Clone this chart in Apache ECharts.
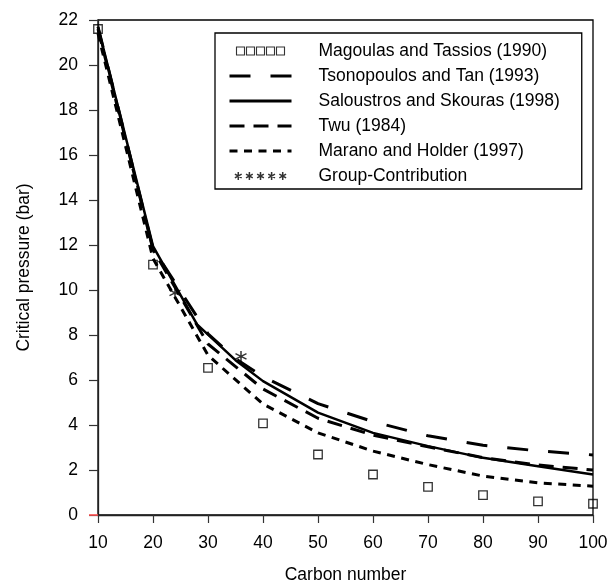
<!DOCTYPE html>
<html>
<head>
<meta charset="utf-8">
<script src="https://cdn.jsdelivr.net/npm/echarts@6/dist/echarts.min.js"></script>
<style>
  html, body { margin: 0; padding: 0; background: #fff; }
  #chart { width: 609px; height: 585px; }
</style>
</head>
<body>
<div id="chart"></div>
<script>
// Critical pressure of n-alkanes versus carbon number
const magoulasCarbon = [10, 20, 30, 40, 50, 60, 70, 80, 90, 100];
const magoulas = [21.6, 11.13, 6.54, 4.07, 2.69, 1.80, 1.25, 0.88, 0.61, 0.50];

const tsonopoulosCarbon = [10, 20, 30, 35, 40, 50, 60, 70, 80, 90, 100];
const tsonopoulos = [21.7, 11.85, 8.05, 6.95, 6.15, 4.95, 4.15, 3.52, 3.10, 2.85, 2.67];

const saloustrosCarbon = [10, 20, 28, 35, 40, 50, 60, 70, 80, 90, 100];
const saloustros = [21.7, 11.95, 8.47, 6.88, 5.95, 4.55, 3.65, 3.06, 2.54, 2.17, 1.80];

const twuCarbon = [10, 20, 30, 40, 50, 60, 70, 80, 90, 100];
const twu = [21.6, 11.8, 7.6, 5.6, 4.3, 3.55, 3.03, 2.55, 2.22, 2.0];

const maranoCarbon = [10, 20, 30, 40, 50, 60, 70, 80, 90, 100];
const marano = [21.4, 11.4, 7.1, 4.93, 3.65, 2.84, 2.24, 1.73, 1.43, 1.28];

const groupCarbon = [24, 36];
const groupContribution = [9.87, 7.05];

const xTicks = [10, 20, 30, 40, 50, 60, 70, 80, 90, 100];
const yTicks = [0, 2, 4, 6, 8, 10, 12, 14, 16, 18, 20, 22];

const names = [
  'Magoulas and Tassios (1990)',
  'Tsonopoulos and Tan (1993)',
  'Saloustros and Skouras (1998)',
  'Twu (1984)',
  'Marano and Holder (1997)',
  'Group-Contribution'
];

function pairs(xs, ys) { return xs.map((x, i) => [x, ys[i]]); }

const FONT = '"Liberation Sans", Arial, Helvetica, sans-serif';
const FS = 17.5;
const INK = '#000';

const starPath = 'path://M0,-5V5M-4.33,-2.5L4.33,2.5M-4.33,2.5L4.33,-2.5';
const fiveSquares = 'path://M0,0h8v8h-8zM10,0h8v8h-8zM20,0h8v8h-8zM30,0h8v8h-8zM40,0h8v8h-8z';
let fiveStars = '';
for (let k = 0; k < 5; k++) {
  const c = 4 + k * 12.5;
  fiveStars += 'M' + c + ',-0.5V8.5M' + (c - 3.8) + ',1.8L' + (c + 3.8) + ',6.2M' + (c - 3.8) + ',6.2L' + (c + 3.8) + ',1.8';
}
fiveStars = 'path://' + fiveStars;

function lineSeries(name, xs, ys, width, type) {
  return {
    name, type: 'line', data: pairs(xs, ys),
    symbol: 'none', smooth: false, silent: true,
    lineStyle: { color: INK, width, type },
    z: 3
  };
}

const chart = echarts.init(document.getElementById('chart'), null, { renderer: 'canvas' });
chart.setOption({
  animation: false,
  backgroundColor: '#fff',
  textStyle: { fontFamily: FONT },
  grid: {
    left: 98, right: 16, top: 20, bottom: 70,
    outerBoundsMode: 'none', containLabel: false,
    show: true, borderColor: INK, borderWidth: 1.3, backgroundColor: 'transparent'
  },
  xAxis: {
    type: 'value', min: xTicks[0], max: xTicks[xTicks.length - 1], interval: 10,
    name: 'Carbon number', nameLocation: 'middle', nameGap: 51,
    nameTextStyle: { fontFamily: FONT, fontSize: FS, color: INK },
    axisLine: { lineStyle: { color: '#222', width: 1.3 } },
    axisTick: { show: true, length: 8, lineStyle: { color: '#333', width: 1.2 } },
    axisLabel: { fontFamily: FONT, fontSize: FS, color: INK, margin: 19 },
    splitLine: { show: false }
  },
  yAxis: [{
    type: 'value', min: yTicks[0], max: yTicks[yTicks.length - 1], interval: 2,
    name: 'Critical pressure (bar)', nameLocation: 'middle', nameGap: 65,
    nameTextStyle: { fontFamily: FONT, fontSize: FS, color: INK },
    axisLine: { show: true, lineStyle: { color: '#222', width: 1.3 } },
    axisTick: { show: true, length: 9, lineStyle: { color: '#333', width: 1.2 } },
    axisLabel: { fontFamily: FONT, fontSize: FS, color: INK, margin: 20 },
    splitLine: { show: false }
  }, {
    // red tick marking the zero line
    type: 'value', position: 'left', min: yTicks[0], max: yTicks[yTicks.length - 1], interval: 2,
    axisLine: { show: false },
    axisTick: { show: true, length: 9, customValues: [0], lineStyle: { color: '#ff5050', width: 1.6 } },
    axisLabel: { show: false },
    splitLine: { show: false }
  }],
  legend: {
    orient: 'vertical', left: 215, top: 33,
    padding: [8, 22, 3, 13],
    itemWidth: 62, itemHeight: 8, itemGap: 5,
    borderColor: INK, borderWidth: 1.3, backgroundColor: '#fff',
    selectedMode: false,
    textStyle: { fontFamily: FONT, fontSize: FS, color: INK, lineHeight: 20, padding: [0, 0, 0, 22] },
    lineStyle: { width: 3 },
    data: [
      { name: names[0], icon: fiveSquares, itemStyle: { color: 'rgba(0,0,0,0)', borderColor: INK, borderWidth: 1.1 } },
      { name: names[1], itemStyle: { opacity: 0 } },
      { name: names[2], itemStyle: { opacity: 0 } },
      { name: names[3], itemStyle: { opacity: 0 } },
      { name: names[4], itemStyle: { opacity: 0 } },
      { name: names[5], icon: fiveStars, itemStyle: { color: 'rgba(0,0,0,0)', borderColor: INK, borderWidth: 1.5 } }
    ]
  },
  series: [
    {
      name: names[0], type: 'scatter', data: pairs(magoulasCarbon, magoulas),
      symbol: 'rect', symbolSize: 8.5, silent: true, z: 4,
      itemStyle: { color: 'rgba(0,0,0,0)', borderColor: INK, borderWidth: 1.3 }
    },
    lineSeries(names[1], tsonopoulosCarbon, tsonopoulos, 3, [21, 20]),
    lineSeries(names[2], saloustrosCarbon, saloustros, 2.5, 'solid'),
    lineSeries(names[3], twuCarbon, twu, 3, [15, 9]),
    lineSeries(names[4], maranoCarbon, marano, 3, [8, 6.5]),
    {
      name: names[5], type: 'scatter', data: pairs(groupCarbon, groupContribution),
      symbol: starPath, symbolSize: 11, silent: true, z: 4,
      itemStyle: { color: 'rgba(0,0,0,0)', borderColor: INK, borderWidth: 1.5 }
    }
  ]
});
</script>
</body>
</html>
